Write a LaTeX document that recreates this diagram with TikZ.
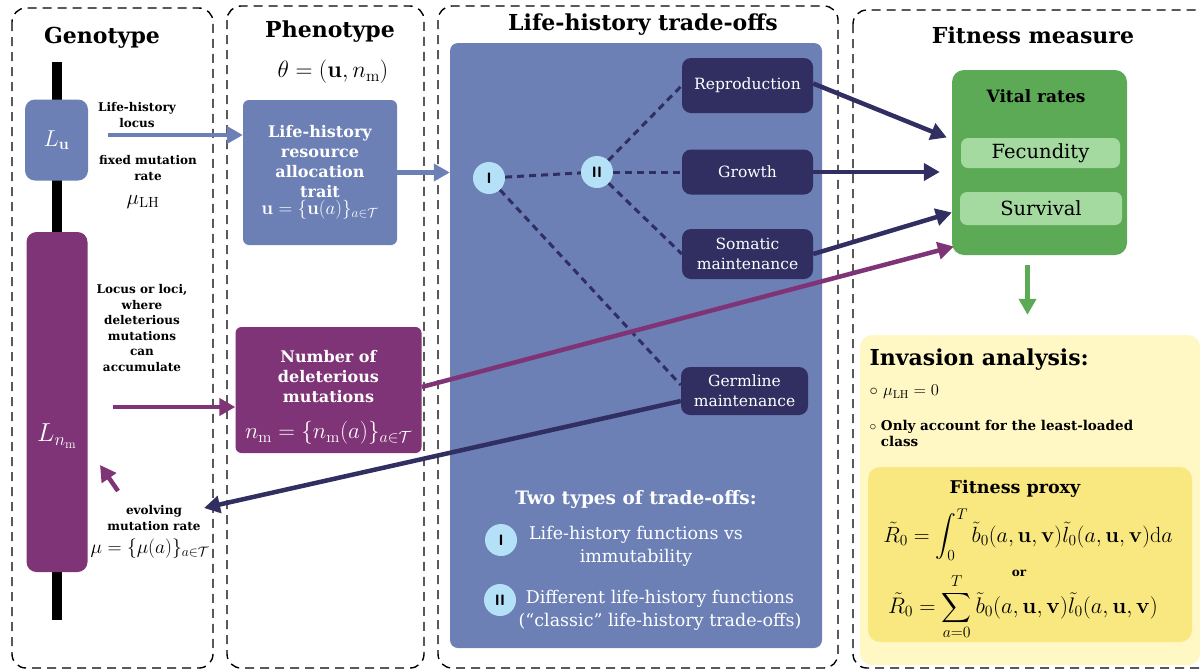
\documentclass[tikz,border=0pt]{standalone}
\usepackage{fix-cm}
\usepackage[no-math]{fontspec}
\setmainfont{DejaVu Serif}
\usepackage{amsmath}
\usetikzlibrary{arrows.meta,positioning}

\definecolor{lhblue}{RGB}{108,128,181}
\definecolor{mutpurple}{RGB}{126,52,118}
\definecolor{navy}{RGB}{49,46,98}
\definecolor{paleblue}{RGB}{180,225,248}
\definecolor{vitalgreen}{RGB}{92,170,86}
\definecolor{palegreen}{RGB}{164,217,160}
\definecolor{paleyellow}{RGB}{255,248,196}
\definecolor{proxyyellow}{RGB}{249,232,128}

\begin{document}
\begin{tikzpicture}[x=1pt,y=-1pt,
    panel/.style={line width=1.4pt,dash pattern=on 9pt off 6pt,rounded corners=14pt},
    title/.style={font=\fontsize{22}{24}\selectfont\bfseries},
    note/.style={font=\fontsize{12}{15.5}\selectfont\bfseries,align=center,inner sep=0pt},
    traitbox/.style={rounded corners=6pt,text=white,align=center,font=\fontsize{16}{20}\selectfont\bfseries,inner sep=0pt},
    fnbox/.style={fill=navy,rounded corners=9pt,text=white,align=center,minimum width=131pt,font=\fontsize{15.5}{20}\selectfont,inner sep=0pt},
    tag/.style={circle,fill=paleblue,minimum size=32pt,inner sep=0pt,font=\sffamily\bfseries\fontsize{15}{15}\selectfont},
    link/.style={navy,line width=3pt,dash pattern=on 7pt off 5pt},
    flow/.style={line width=4.5pt,-{Triangle[length=16pt,width=17pt]}},
    rate/.style={fill=palegreen,rounded corners=7pt,font=\fontsize{19.5}{22}\selectfont,inner sep=0pt}]
    \useasboundingbox (0,0) rectangle (1201,670);

    % dashed panels
    \draw[panel] (12,8) rectangle (213,668);
    \draw[panel] (227,6) rectangle (424,668);
    \draw[panel] (438,6) rectangle (838,668);
    \draw[panel] (853,10) rectangle (1230,668);

    % genotype
    \node[title] (geno) at (102,38) {Genotype};
    \fill (51.5,62) rectangle (61.5,620);
    \node[fill=lhblue,rounded corners=10pt,minimum width=63pt,minimum height=81pt,text=white,font=\fontsize{23}{23}\selectfont] (Lu) at (56.5,140) {$L_{\mathbf{u}}$};
    \node[fill=mutpurple,rounded corners=10pt,minimum width=61pt,minimum height=340pt] (Lnm) at (57,402) {};
    \node[text=white,font=\fontsize{26}{26}\selectfont] (Lnmlabel) at (57,436) {$L_{n_{\mathrm{m}}}$};
    \node[note] (lhlocus) at (137,115) {Life-history\\locus};
    \node[note] (fixedrate) at (148,168) {fixed mutation\\rate};
    \node[font=\fontsize{21}{21}\selectfont] (muLH) at (143,202) {$\mu_{\mathrm{LH}}$};
    \node[note] (loci) at (142,328) {Locus or loci,\\where\\deleterious\\mutations\\can\\accumulate};
    \node[note] (evolving) at (154,518) {evolving\\mutation rate};
    \node[inner sep=0pt,font=\fontsize{19.5}{19.5}\selectfont] (mueq) at (150,549) {$\mu=\{\mu(a)\}_{a\in\mathcal{T}}$};

    % phenotype
    \node[title] (pheno) at (330,32) {Phenotype};
    \node[font=\fontsize{23.5}{23.5}\selectfont] (theta) at (333,72) {$\theta=(\mathbf{u},n_{\mathrm{m}})$};
    \node[traitbox,fill=lhblue,minimum width=154pt,minimum height=145pt] (Pu) at (320,172.5) {Life-history\\resource\\allocation\\trait\\[-3pt]\fontsize{19}{19}\selectfont$\mathbf{u}=\{\mathbf{u}(a)\}_{a\in\mathcal{T}}$};
    \node[traitbox,fill=mutpurple,minimum width=186pt,minimum height=126pt] (Nm) at (328.5,390) {\rule{0pt}{27pt}Number of\\deleterious\\mutations\\[16pt]\fontsize{23}{23}\selectfont$n_{\mathrm{m}}=\{n_{\mathrm{m}}(a)\}_{a\in\mathcal{T}}$};

    % life-history trade-offs
    \node[title] (trade) at (643,25) {Life-history trade-offs};
    \node[fill=lhblue,rounded corners=8pt,minimum width=372pt,minimum height=605pt] (TO) at (636,345.5) {};
    \node[fnbox,minimum height=55pt] (Rep) at (747.5,85.5) {Reproduction};
    \node[fnbox,minimum height=45pt] (Gr) at (747.5,172) {Growth};
    \node[fnbox,minimum height=50pt] (Som) at (747.5,254) {Somatic\\maintenance};
    \node[fnbox,minimum width=127pt,minimum height=48pt] (Gm) at (744.5,391) {Germline\\maintenance};
    \node[tag] (tI) at (489,178) {I};
    \node[tag] (tII) at (597,172) {II};
    \draw[link] (tI) -- (tII);
    \draw[link] (tII) -- (Rep.west);
    \draw[link] (tII) -- (Gr.west);
    \draw[link] (tII) -- (Som.west);
    \draw[link] (tI) -- ([yshift=6pt]Gm.west);

    \node[text=white,font=\fontsize{18.5}{20}\selectfont\bfseries] (kinds) at (636,500) {Two types of trade-offs:};
    \node[tag] (kI) at (501,540) {I};
    \node[text=white,align=center,font=\fontsize{17.5}{23}\selectfont] (kIt) at (636,546) {Life-history functions vs\\immutability};
    \node[tag] (kII) at (500,600) {II};
    \node[text=white,align=center,font=\fontsize{17.5}{23}\selectfont] (kIIt) at (660,610) {Different life-history functions\\(“classic” life-history trade-offs)};

    % fitness measure
    \node[title] (fit) at (1033,35) {Fitness measure};
    \node[fill=vitalgreen,rounded corners=12pt,minimum width=175pt,minimum height=185pt] (Vr) at (1039.5,162.5) {};
    \node[font=\fontsize{17}{17}\selectfont\bfseries] (Vrt) at (1036,96) {Vital rates};
    \node[rate,minimum width=159pt,minimum height=30pt] (Fec) at (1040.5,153) {Fecundity};
    \node[rate,minimum width=162pt,minimum height=33pt] (Sur) at (1041,208.5) {Survival};

    \node[fill=paleyellow,rounded corners=12pt,minimum width=340pt,minimum height=330pt] (Inv) at (1030,500) {};
    \node[anchor=west,font=\fontsize{22}{22}\selectfont\bfseries] (invt) at (866,360) {Invasion analysis:};
    \node[anchor=west,font=\fontsize{16.5}{16.5}\selectfont] (b1) at (866,392) {$\circ$ $\mu_{\mathrm{LH}}=0$};
    \node[anchor=west,align=left,font=\fontsize{13.5}{16}\selectfont\bfseries] (b2) at (866,433) {$\circ$ Only account for the least-loaded\\\phantom{$\circ$ }class};
    \node[fill=proxyyellow,rounded corners=12pt,minimum width=324pt,minimum height=175pt] (Px) at (1030,554.5) {};
    \node[inner sep=1pt,font=\fontsize{17.5}{17.5}\selectfont\bfseries] (pxt) at (1015,489) {Fitness proxy};
    \node[inner sep=0pt,font=\fontsize{22}{22}\selectfont] (eq1) at (1028,535) {$\displaystyle \tilde{R}_0=\int_0^T\tilde{b}_0(a,\mathbf{u},\mathbf{v})\tilde{l}_0(a,\mathbf{u},\mathbf{v})\mathrm{d}a$};
    \node[inner sep=0pt,font=\fontsize{12}{12}\selectfont\bfseries] (or) at (1019,573) {or};
    \node[inner sep=0pt,font=\fontsize{22.5}{22.5}\selectfont] (eq2) at (1023,607) {$\displaystyle \tilde{R}_0=\sum_{a=0}^{T}\tilde{b}_0(a,\mathbf{u},\mathbf{v})\tilde{l}_0(a,\mathbf{u},\mathbf{v})$};

    % arrows
    \coordinate (luout) at (108,135);
    \coordinate (nmtail) at (113,407);
    \coordinate (evtail) at (118,491);
    \coordinate (evhead) at (100,465);
    \coordinate (mutrate) at (204,508);
    \draw[flow,lhblue] (luout) -- (luout -| Pu.west);
    \draw[flow,lhblue] (Pu.east) -- (Pu.east -| TO.west);
    \draw[flow,mutpurple] (nmtail) -- (nmtail -| Nm.west);
    \draw[flow,mutpurple] (evtail) -- (evhead);
    \draw[flow,navy] ([yshift=-10pt]Gm.west) -- (mutrate);
    \draw[flow,navy] ([yshift=2pt]Rep.east) -- ([yshift=25pt,xshift=-5pt]Vr.west);
    \draw[flow,navy] (Gr.east) -- ([xshift=-12pt]Vr.west |- Gr.east);
    \draw[flow,navy] (Som.east) -- ([yshift=-50pt]Vr.west);
    \draw[flow,mutpurple] ([yshift=3pt]Nm.east) -- ([yshift=-84pt,xshift=2pt]Vr.west);
    \draw[flow,vitalgreen,shorten <=10pt,shorten >=20pt] ([xshift=-12pt]Vr.south) -- ([xshift=-12pt]Vr.south |- Inv.north);
\end{tikzpicture}
\end{document}
